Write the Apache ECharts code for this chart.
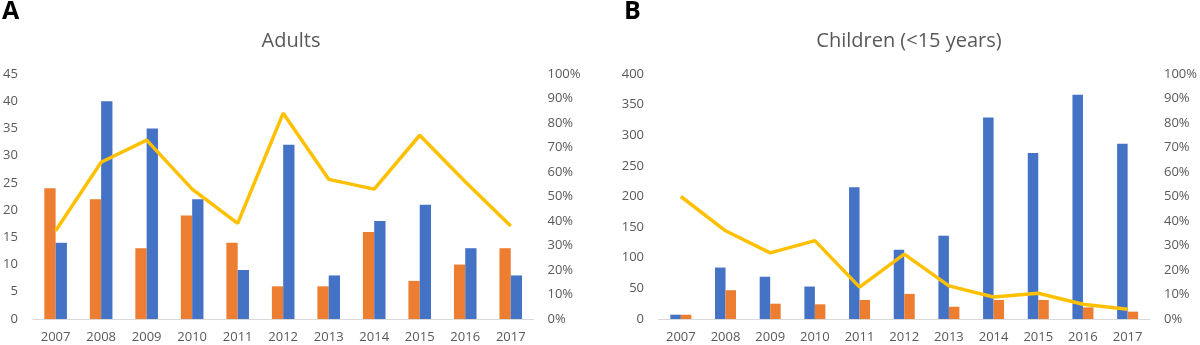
<!DOCTYPE html>
<html>
<head>
<meta charset="utf-8">
<script src="https://cdn.jsdelivr.net/npm/echarts@6/dist/echarts.min.js"></script>
<style>
  html, body { margin: 0; padding: 0; background: #fff; }
  #chart { width: 1200px; height: 345px; }
</style>
</head>
<body>
<div id="chart"></div>
<script>
// Years on the category axis (shared by both panels)
const years = ['2007', '2008', '2009', '2010', '2011', '2012', '2013', '2014', '2015', '2016', '2017'];

// Panel A: adults
const adultsOrange = [24, 22, 13, 19, 14, 6, 6, 16, 7, 10, 13];
const adultsBlue = [14, 40, 35, 22, 9, 32, 8, 18, 21, 13, 8];
const adultsPct = [36, 64, 73, 53, 39, 84, 57, 53, 75, 56, 38];

// Panel B: children (<15 years)
const childrenBlue = [7, 84, 69, 53, 215, 113, 136, 329, 271, 366, 286];
const childrenOrange = [7, 47, 25, 24, 31, 41, 20, 31, 31, 19, 12];
const childrenPct = [50, 36, 27, 32, 13, 26.5, 13.5, 9, 10.5, 6, 4];

// Panel headings
const panelLetters = ['A', 'B'];
const panelTitles = ['Adults', 'Children (<15 years)'];

const FONT = 'Open Sans';
const GREY = '#595959';
const BLUE = '#4472C4';
const ORANGE = '#ED7D31';
const GOLD = '#FFC000';

const axisText = { color: GREY, fontFamily: FONT, fontSize: 13 };

function valueAxis(gridIndex, max, interval, pos, fmt, margin) {
  return {
    type: 'value', gridIndex, min: 0, max, interval, position: pos,
    axisLine: { show: false }, axisTick: { show: false }, splitLine: { show: false },
    axisLabel: Object.assign({ formatter: fmt, margin }, axisText)
  };
}

function catAxis(gridIndex) {
  return {
    type: 'category', gridIndex, data: years,
    axisLine: { lineStyle: { color: '#D9D9D9', width: 1 } },
    axisTick: { show: false },
    axisLabel: Object.assign({ margin: 12, interval: 0 }, axisText)
  };
}

function headingText(text, x, y, size, weight, color, align) {
  return {
    type: 'text', x, y,
    style: {
      text, fill: color, font: weight + ' ' + size + 'px "' + FONT + '"',
      textAlign: align, textVerticalAlign: 'middle'
    }
  };
}

const chart = echarts.init(document.getElementById('chart'), null, { renderer: 'canvas' });

chart.setOption({
  animation: false,
  backgroundColor: '#fff',
  graphic: [
    headingText(panelLetters[0], 2, 12, 25, 'bold', '#000', 'left'),
    headingText(panelLetters[1], 624, 12, 25, 'bold', '#000', 'left'),
    headingText(panelTitles[0], 291, 41, 20, 'normal', GREY, 'center'),
    headingText(panelTitles[1], 909, 41, 20, 'normal', GREY, 'center')
  ],
  grid: [
    { left: 32, right: 666.5, top: 74, bottom: 26 },
    { left: 658.5, right: 48, top: 74, bottom: 26 }
  ],
  xAxis: [catAxis(0), catAxis(1)],
  yAxis: [
    valueAxis(0, 45, 5, 'left', '{value}', 15),
    valueAxis(0, 100, 10, 'right', '{value}%', 14),
    valueAxis(1, 400, 50, 'left', '{value}', 14.5),
    valueAxis(1, 100, 10, 'right', '{value}%', 14)
  ],
  series: [
    { type: 'bar', xAxisIndex: 0, yAxisIndex: 0, data: adultsOrange, barWidth: 11.3, barGap: '0%', itemStyle: { color: ORANGE } },
    { type: 'bar', xAxisIndex: 0, yAxisIndex: 0, data: adultsBlue, barWidth: 11.3, barGap: '0%', itemStyle: { color: BLUE } },
    { type: 'line', xAxisIndex: 0, yAxisIndex: 1, data: adultsPct, symbol: 'none', lineStyle: { color: GOLD, width: 3.5 }, z: 5 },
    { type: 'bar', xAxisIndex: 1, yAxisIndex: 2, data: childrenBlue, barWidth: 10.5, barGap: '0%', itemStyle: { color: BLUE } },
    { type: 'bar', xAxisIndex: 1, yAxisIndex: 2, data: childrenOrange, barWidth: 10.5, barGap: '0%', itemStyle: { color: ORANGE } },
    { type: 'line', xAxisIndex: 1, yAxisIndex: 3, data: childrenPct, symbol: 'none', lineStyle: { color: GOLD, width: 3.5 }, z: 5 }
  ]
});
</script>
</body>
</html>
